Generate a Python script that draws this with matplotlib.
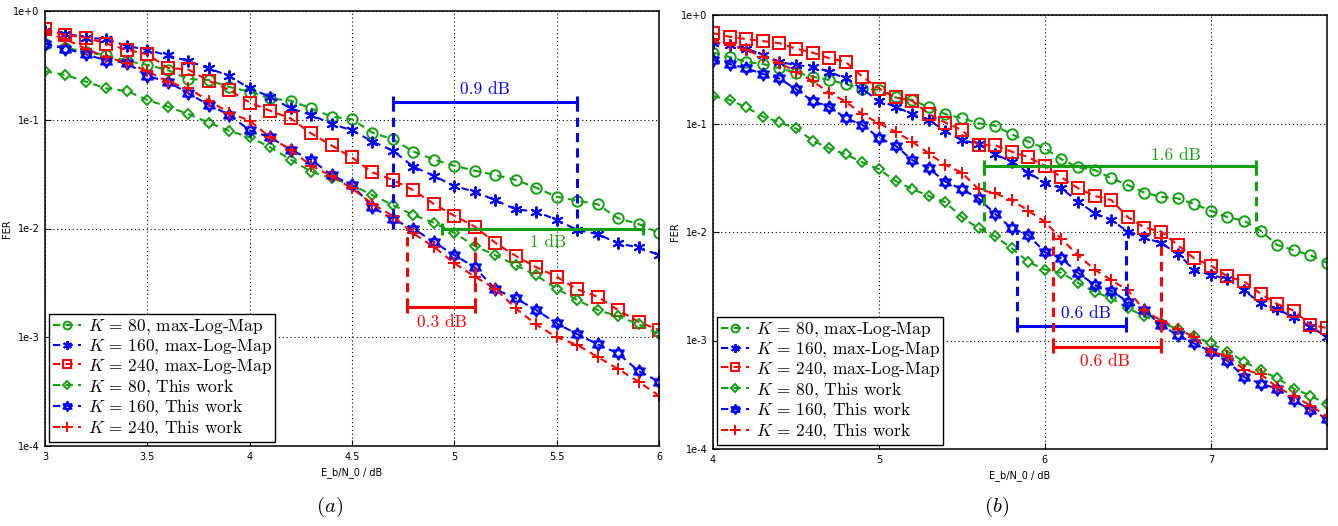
import numpy as np
import matplotlib
matplotlib.use("Agg")
import matplotlib.pyplot as plt
from matplotlib.path import Path

plt.rcParams['mathtext.fontset'] = 'cm'

# ---------------- data: panel (a) ----------------
x_a = [3.0, 3.1, 3.2, 3.3, 3.4, 3.5, 3.6, 3.7, 3.8, 3.9, 4.0, 4.1, 4.2, 4.3, 4.4, 4.5,
       4.6, 4.7, 4.8, 4.9, 5.0, 5.1, 5.2, 5.3, 5.4, 5.5, 5.6, 5.7, 5.8, 5.9, 6.0]
a_k80_mlm = [0.50, 0.46, 0.42, 0.39, 0.347, 0.32, 0.286, 0.237, 0.232, 0.20, 0.181, 0.157, 0.150,
             0.127, 0.107, 0.101, 0.076, 0.066, 0.051, 0.043, 0.0378, 0.034, 0.031, 0.028,
             0.0237, 0.0196, 0.018, 0.0167, 0.0124, 0.011, 0.0091]
a_k160_mlm = [0.66, 0.62, 0.57, 0.55, 0.477, 0.44, 0.39, 0.347, 0.297, 0.253, 0.194, 0.163, 0.127,
              0.111, 0.0914, 0.080, 0.063, 0.052, 0.037, 0.0305, 0.0245, 0.0218, 0.0182, 0.015,
              0.0143, 0.012, 0.0097, 0.0089, 0.0073, 0.0067, 0.0057]
a_k240_mlm = [0.68, 0.60, 0.57, 0.50, 0.44, 0.40, 0.30, 0.29, 0.228, 0.188, 0.144, 0.121, 0.103,
              0.075, 0.058, 0.045, 0.0328, 0.0279, 0.0225, 0.0168, 0.0131, 0.0104, 0.0074,
              0.0056, 0.0044, 0.0036, 0.00276, 0.00236, 0.00178, 0.00139, 0.00116]
a_k80_tw = [0.28, 0.258, 0.224, 0.194, 0.184, 0.152, 0.132, 0.113, 0.094, 0.079, 0.069, 0.056,
            0.043, 0.0334, 0.029, 0.0251, 0.0203, 0.0164, 0.0133, 0.0113, 0.0091, 0.0069,
            0.0057, 0.0046, 0.0037, 0.0028, 0.0022, 0.00178, 0.00156, 0.00132, 0.00107]
a_k160_tw = [0.50, 0.45, 0.40, 0.35, 0.335, 0.252, 0.224, 0.175, 0.137, 0.111, 0.080, 0.069,
             0.053, 0.043, 0.031, 0.0251, 0.0158, 0.0121, 0.0100, 0.0075, 0.0057, 0.0044,
             0.00276, 0.00228, 0.00178, 0.00134, 0.00107, 0.00086, 0.00071, 0.00049, 0.00039]
a_k240_tw = [0.645, 0.55, 0.45, 0.375, 0.335, 0.28, 0.224, 0.194, 0.15, 0.116, 0.098, 0.069,
             0.053, 0.0378, 0.0304, 0.0234, 0.0168, 0.0130, 0.0090, 0.0068, 0.0048, 0.0036,
             0.0028, 0.00184, 0.00131, 0.00100, 0.00085, 0.00066, 0.00051, 0.00039, 0.00029]

# ---------------- data: panel (b) ----------------
x_b = [4.0, 4.1, 4.2, 4.3, 4.4, 4.5, 4.6, 4.7, 4.8, 4.9, 5.0, 5.1, 5.2, 5.3, 5.4, 5.5, 5.6,
       5.7, 5.8, 5.9, 6.0, 6.1, 6.2, 6.3, 6.4, 6.5, 6.6, 6.7, 6.8, 6.9, 7.0, 7.1, 7.2, 7.3,
       7.4, 7.5, 7.6, 7.7]
b_k80_mlm = [0.45, 0.41, 0.37, 0.353, 0.323, 0.294, 0.27, 0.252, 0.231, 0.207, 0.204, 0.174,
             0.165, 0.141, 0.122, 0.112, 0.1005, 0.0955, 0.0795, 0.068, 0.059, 0.0468, 0.0394,
             0.0373, 0.0313, 0.0271, 0.023, 0.0211, 0.0204, 0.0181, 0.0157, 0.0137, 0.0127,
             0.0103, 0.0076, 0.0068, 0.0061, 0.0052]
b_k160_mlm = [0.556, 0.53, 0.49, 0.43, 0.37, 0.345, 0.334, 0.30, 0.26, 0.207, 0.162, 0.143,
              0.122, 0.108, 0.085, 0.070, 0.065, 0.052, 0.0445, 0.0352, 0.0285, 0.0253, 0.019,
              0.0149, 0.0129, 0.0101, 0.0089, 0.0079, 0.0063, 0.0045, 0.0040, 0.0037, 0.0029,
              0.0022, 0.00194, 0.00164, 0.00134, 0.00108]
b_k240_mlm = [0.68, 0.63, 0.60, 0.575, 0.55, 0.49, 0.45, 0.40, 0.37, 0.27, 0.21, 0.174, 0.162,
              0.122, 0.102, 0.087, 0.063, 0.063, 0.055, 0.049, 0.0406, 0.0319, 0.0253, 0.0215,
              0.0197, 0.0137, 0.011, 0.0101, 0.0076, 0.0057, 0.0049, 0.0039, 0.0035, 0.0027,
              0.00217, 0.00188, 0.0014, 0.0013]
b_k80_tw = [0.179, 0.165, 0.141, 0.116, 0.1026, 0.090, 0.0695, 0.059, 0.052, 0.0439, 0.0378,
            0.0295, 0.0249, 0.0215, 0.0188, 0.0137, 0.0108, 0.0091, 0.0071, 0.0053, 0.0045,
            0.0042, 0.0034, 0.0028, 0.00245, 0.00198, 0.00168, 0.00144, 0.00129, 0.0011,
            0.00094, 0.00079, 0.00064, 0.00053, 0.00045, 0.00036, 0.00031, 0.00026]
b_k160_tw = [0.385, 0.353, 0.323, 0.286, 0.26, 0.207, 0.161, 0.143, 0.112, 0.097, 0.074, 0.0625,
             0.046, 0.0386, 0.0291, 0.0248, 0.0204, 0.0147, 0.0108, 0.0094, 0.0065, 0.0057,
             0.0042, 0.00325, 0.00286, 0.00228, 0.0019, 0.00139, 0.00112, 0.00094, 0.00079,
             0.00065, 0.00046, 0.00040, 0.00036, 0.00028, 0.00023, 0.00019]
b_k240_tw = [0.57, 0.53, 0.475, 0.413, 0.363, 0.30, 0.246, 0.192, 0.159, 0.1215, 0.1005, 0.084,
             0.068, 0.053, 0.0415, 0.0352, 0.0248, 0.0227, 0.0197, 0.0157, 0.0124, 0.0086,
             0.0061, 0.0045, 0.0036, 0.0029, 0.0019, 0.00152, 0.00129, 0.00107, 0.00079,
             0.00072, 0.00054, 0.00049, 0.00037, 0.00031, 0.00025, 0.0002]

labels = [r'$K$ = 80, max-Log-Map', r'$K$ = 160, max-Log-Map', r'$K$ = 240, max-Log-Map',
          r'$K$ = 80, This work', r'$K$ = 160, This work', r'$K$ = 240, This work']

GREEN = '#12a012'
BLUE = '#0000ff'
RED = '#ff0000'

# hexagram marker (star of David)
def _tri(offset):
    ang = np.deg2rad(np.array([90, 210, 330, 90]) + offset)
    verts = np.column_stack([np.cos(ang), np.sin(ang)])
    return Path(verts, [Path.MOVETO, Path.LINETO, Path.LINETO, Path.CLOSEPOLY])
HEXAGRAM = Path.make_compound_path(_tri(0), _tri(180))
ASTERISK = (6, 2, 0)

styles = [
    dict(color=GREEN, marker='o', ms=7.5),
    dict(color=BLUE, marker=ASTERISK, ms=8.5),
    dict(color=RED, marker='s', ms=8),
    dict(color=GREEN, marker='D', ms=5.5),
    dict(color=BLUE, marker=HEXAGRAM, ms=9),
    dict(color=RED, marker='+', ms=9),
]

fig = plt.figure(figsize=(13.38, 5.26), dpi=100)
W, H = 1338, 526
ax_a = fig.add_axes([45 / W, 1 - 446 / H, (659 - 45) / W, (446 - 11) / H])
ax_b = fig.add_axes([713 / W, 1 - 449 / H, (1327 - 713) / W, (449 - 15) / H])

def draw(ax, x, series, xlim, xticks):
    for ys, st, lab in zip(series, styles, labels):
        ax.plot(x, ys, linestyle=(0, (3.5, 2.5)), lw=1.5, color=st['color'],
                marker=st['marker'], ms=st['ms'], mfc='none', mec=st['color'],
                mew=1.4, label=lab)
    ax.set_yscale('log')
    ax.set_ylim(1e-4, 1)
    ax.set_xlim(*xlim)
    ax.set_xticks(xticks)
    ax.set_xticklabels([('%g' % t) for t in xticks])
    ax.set_yticks([1e-4, 1e-3, 1e-2, 1e-1, 1])
    ax.set_yticklabels(['1e-4', '1e-3', '1e-2', '1e-1', '1e+0'])
    ax.yaxis.set_minor_locator(matplotlib.ticker.NullLocator())
    ax.grid(True, which='major', color='black', linestyle=(0, (1, 2.5)), lw=0.8)
    ax.tick_params(direction='in', labelsize=7, length=4, width=0.8, pad=4)
    for sp in ax.spines.values():
        sp.set_linewidth(1.1)
    ax.set_xlabel('E_b/N_0 / dB', fontsize=7, labelpad=4)
    ax.set_ylabel('FER', fontsize=7, labelpad=1)
    leg = ax.legend(loc='lower left', prop={'family': 'cmr10', 'size': 12.5},
                    handlelength=1.6, handletextpad=0.4, borderpad=0.2,
                    labelspacing=0.05, fancybox=False, framealpha=1,
                    edgecolor='black', borderaxespad=0.25, markerscale=0.75)
    leg.get_frame().set_linewidth(1.0)

draw(ax_a, x_a, [a_k80_mlm, a_k160_mlm, a_k240_mlm, a_k80_tw, a_k160_tw, a_k240_tw],
     (3, 6), [3, 3.5, 4, 4.5, 5, 5.5, 6])
draw(ax_b, x_b, [b_k80_mlm, b_k160_mlm, b_k240_mlm, b_k80_tw, b_k160_tw, b_k240_tw],
     (4, 7.7), [4, 5, 6, 7])

# ---------------- annotations ----------------
def bracket(ax, x0, x1, ybar, ydrop, color):
    ax.plot([x0, x1], [ybar, ybar], color=color, lw=2.2, solid_capstyle='butt', zorder=5)
    ax.plot([x0, x1], [ybar, ybar], color=color, lw=0, marker='|', ms=9, mew=2.2, zorder=5)
    if ydrop is not None:
        for xv in (x0, x1):
            ax.plot([xv, xv], [ybar, ydrop], color=color, lw=2.2,
                    linestyle=(0, (3, 2)), zorder=5)

def label(ax, x, y, s, color):
    ax.text(x, y, s, color=color, fontsize=12.5, family='cmr10', ha='center', va='center',
            zorder=6)

bracket(ax_a, 4.70, 5.60, 0.1465, 0.0100, BLUE)
label(ax_a, 5.15, 0.19, '0.9 dB', BLUE)
bracket(ax_a, 4.94, 5.92, 0.0100, None, GREEN)
label(ax_a, 5.46, 0.0074, '1 dB', GREEN)
bracket(ax_a, 4.77, 5.10, 0.00188, 0.0100, RED)
label(ax_a, 4.94, 0.00138, '0.3 dB', RED)

bracket(ax_b, 5.635, 7.27, 0.0408, 0.0100, GREEN)
label(ax_b, 6.79, 0.051, '1.6 dB', GREEN)
bracket(ax_b, 5.83, 6.49, 0.00136, 0.0100, BLUE)
label(ax_b, 6.25, 0.00178, '0.6 dB', BLUE)
bracket(ax_b, 6.05, 6.70, 0.00088, 0.0100, RED)
label(ax_b, 6.36, 0.00064, '0.6 dB', RED)

fig.text(330 / W, 1 - 507 / H, r'$(a)$', fontsize=15, ha='center', va='center')
fig.text(997 / W, 1 - 507 / H, r'$(b)$', fontsize=15, ha='center', va='center')

fig.savefig('out.png', dpi=100)
